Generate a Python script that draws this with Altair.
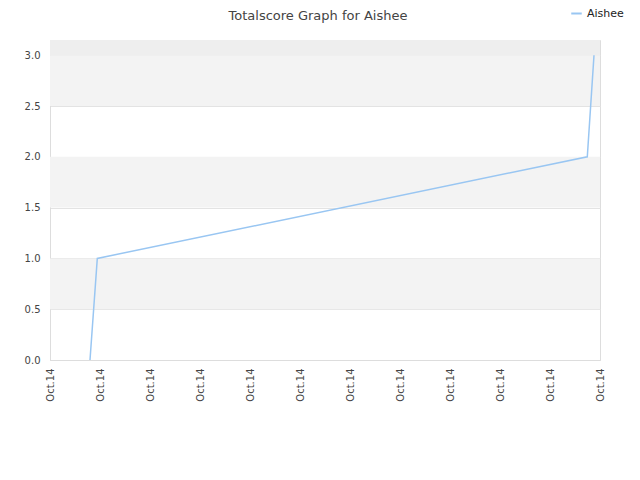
import altair as alt
import pandas as pd

# data
xs = [0.8, 0.946, 10.746, 10.88]
scores = [0, 1, 2, 3]
series = ["Aishee"] * 4
band_lo = [0.5, 1.5, 2.5]
band_hi = [1.0, 2.0, 3.0]
top_lo = [3.0]
top_hi = [3.15]
tick_vals = list(range(0, 12))
tick_label = "Oct.14"

df = pd.DataFrame({"x": xs, "score": scores, "name": series})
bands = pd.DataFrame({"lo": band_lo, "hi": band_hi})
topband = pd.DataFrame({"lo": top_lo, "hi": top_hi})

xscale = alt.Scale(domain=[0, 11], nice=False, zero=False)
yscale = alt.Scale(domain=[0, 3.15], nice=False)

band_layer = alt.Chart(bands).mark_rect(color="#f3f3f3").encode(
    y=alt.Y("lo:Q", scale=yscale),
    y2="hi:Q",
)
top_layer = alt.Chart(topband).mark_rect(color="#eeeeee").encode(
    y=alt.Y("lo:Q", scale=yscale),
    y2="hi:Q",
)

line = alt.Chart(df).mark_line(strokeWidth=1.5).encode(
    x=alt.X("x:Q", scale=xscale,
            axis=alt.Axis(values=tick_vals, labelExpr=f"'{tick_label}'", title=None,
                          labelAngle=270, labelAlign="right", labelBaseline="middle",
                          labelPadding=8, ticks=False, grid=False, domainColor="#dddddd",
                          labelColor="#444444", labelFontSize=10, labelFont="DejaVu Sans")),
    y=alt.Y("score:Q", scale=yscale,
            axis=alt.Axis(values=[0, 0.5, 1, 1.5, 2, 2.5, 3], format=".1f", title=None,
                          ticks=False, gridColor="#e3e3e3", domainColor="#dddddd",
                          labelColor="#444444", labelFontSize=10, labelFont="DejaVu Sans",
                          labelPadding=10)),
    color=alt.Color("name:N", scale=alt.Scale(range=["#99c6f2"]),
                    legend=alt.Legend(title=None, orient="none", legendX=520, legendY=-33,
                                      symbolType="stroke", symbolSize=110, symbolStrokeWidth=2,
                                      labelFontSize=11, labelColor="#222222", labelFont="DejaVu Sans",
                                      labelLimit=200)),
)

chart = alt.layer(band_layer, top_layer, line).properties(
    width=550, height=320,
    title=alt.TitleParams("Totalscore Graph for Aishee", fontSize=13, fontWeight="normal",
                          color="#444444", font="DejaVu Sans", offset=0, dx=-7, dy=16,
                          frame="group", orient="top", anchor="middle"),
    autosize=alt.AutoSizeParams(type="none"),
    padding={"left": 42, "top": 32, "right": 32, "bottom": 112},
).configure_view(stroke="#dddddd").configure(background="white")

chart.save("out.html", embed_options={"renderer": "svg", "actions": False})
